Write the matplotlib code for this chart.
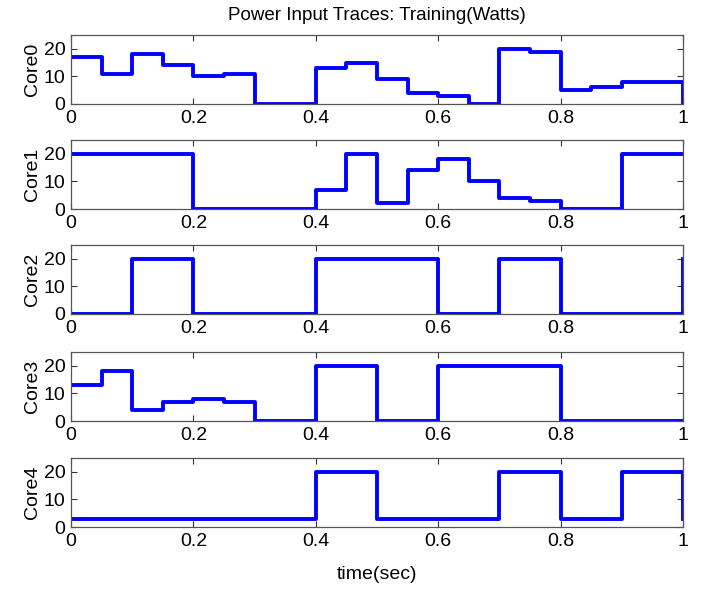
import numpy as np
import matplotlib
matplotlib.use("Agg")
import matplotlib.pyplot as plt

plt.rcParams['font.family'] = ['Liberation Sans', 'DejaVu Sans']

t = np.linspace(0, 1, 21)  # 0.05 s steps
core0 = [17, 11, 18, 14, 10, 11, 0, 0, 13, 15, 9, 4, 3, 0, 20, 19, 5, 6, 8, 8, 0]
core1 = [20, 20, 20, 20, 0, 0, 0, 0, 7, 20, 2, 14, 18, 10, 4, 3, 0, 0, 20, 20, 20]
core2 = [0, 0, 20, 20, 0, 0, 0, 0, 20, 20, 20, 20, 0, 0, 20, 20, 0, 0, 0, 0, 20]
core3 = [13, 18, 4, 7, 8, 7, 0, 0, 20, 20, 0, 0, 20, 20, 20, 20, 0, 0, 0, 0, 0]
core4 = [3, 3, 3, 3, 3, 3, 3, 3, 20, 20, 3, 3, 3, 3, 20, 20, 3, 3, 20, 20, 3]
cores = [core0, core1, core2, core3, core4]
names = ["Core0", "Core1", "Core2", "Core3", "Core4"]
xticks = [0, 0.2, 0.4, 0.6, 0.8, 1]
xticklabels = ["0", "0.2", "0.4", "0.6", "0.8", "1"]

W, H = 703, 591
fig = plt.figure(figsize=(W/100, H/100), dpi=100)
tops = [35, 140, 245, 352, 458]
ax_h = 69
left, right = 71, 683

axes = []
for i, (y, name) in enumerate(zip(cores, names)):
    ax = fig.add_axes([left/W, 1 - (tops[i] + ax_h)/H, (right-left)/W, ax_h/H])
    ax.step(t, y, where='post', color=(0, 0, 1), lw=2.8)
    ax.set_xlim(0, 1)
    ax.set_ylim(0, 25)
    ax.set_yticks([0, 10, 20])
    ax.set_xticks(xticks)
    ax.set_xticklabels(xticklabels)
    ax.tick_params(direction='in', top=True, right=True, length=4, width=0.8,
                   labelsize=14, color='#333333', pad=4)
    ax.set_ylabel(name, fontsize=14, labelpad=2)
    for s in ax.spines.values():
        s.set_color('#555555')
        s.set_linewidth(0.9)
    axes.append(ax)

axes[0].set_title("Power Input Traces: Training(Watts)", fontsize=13.5, pad=11)
axes[-1].set_xlabel("time(sec)", fontsize=14, labelpad=12)

fig.savefig("out.png", dpi=100)
